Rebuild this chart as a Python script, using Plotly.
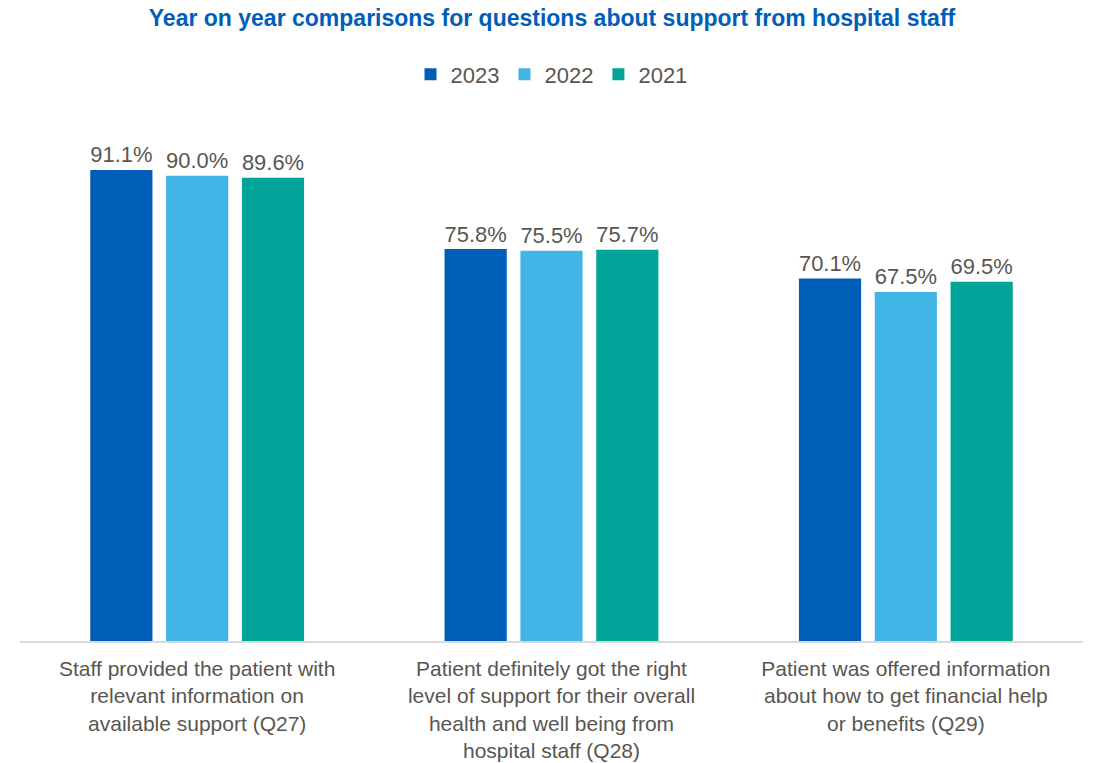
import plotly.graph_objects as go

categories = [
    "Staff provided the patient with<br>relevant information on<br>available support (Q27)",
    "Patient definitely got the right<br>level of support for their overall<br>health and well being from<br>hospital staff (Q28)",
    "Patient was offered information<br>about how to get financial help<br>or benefits (Q29)",
]
years = ["2023", "2022", "2021"]
values_2023 = [91.1, 75.8, 70.1]
values_2022 = [90.0, 75.5, 67.5]
values_2021 = [89.6, 75.7, 69.5]
colors = ["#005EB8", "#41B6E6", "#00A499"]

series = [values_2023, values_2022, values_2021]
text_color = "#595650"
font_family = "Liberation Sans, Arial, sans-serif"

fig = go.Figure()
for year, vals, col in zip(years, series, colors):
    fig.add_trace(go.Bar(
        name=year,
        x=categories,
        y=vals,
        marker=dict(color=col, line=dict(width=0)),
        text=[f"{v:.1f}%" for v in vals],
        textposition="outside",
        textfont=dict(size=24, color=text_color, family=font_family),
        cliponaxis=False,
    ))

fig.update_layout(
    width=1104,
    height=763,
    paper_bgcolor="white",
    plot_bgcolor="white",
    barmode="group",
    bargap=0.358,
    bargroupgap=0.18,
    margin=dict(l=20, r=21, t=124, b=122),
    title=dict(
        text="<b>Year on year comparisons for questions about support from hospital staff</b>",
        x=0.5, xanchor="center", y=0.977, yanchor="middle",
        font=dict(size=23, color="#005EB8", family=font_family),
    ),
    legend=dict(
        orientation="h", x=0.5, xanchor="center", y=1.096, yanchor="middle",
        font=dict(size=22, color=text_color, family=font_family),
        itemwidth=30, tracegroupgap=0, itemsizing="constant",
        bgcolor="rgba(0,0,0,0)",
    ),
    showlegend=True,
    font=dict(family=font_family, color=text_color),
)
fig.update_xaxes(
    showline=True, linecolor="#D9D9D9", linewidth=1.5,
    tickfont=dict(size=21, color=text_color, family=font_family),
    ticks="", showgrid=False, ticklabelstandoff=8, automargin=False,
)
fig.update_yaxes(
    range=[0, 100], visible=False, showgrid=False, zeroline=False,
    automargin=False,
)

fig.write_html("out.html")
